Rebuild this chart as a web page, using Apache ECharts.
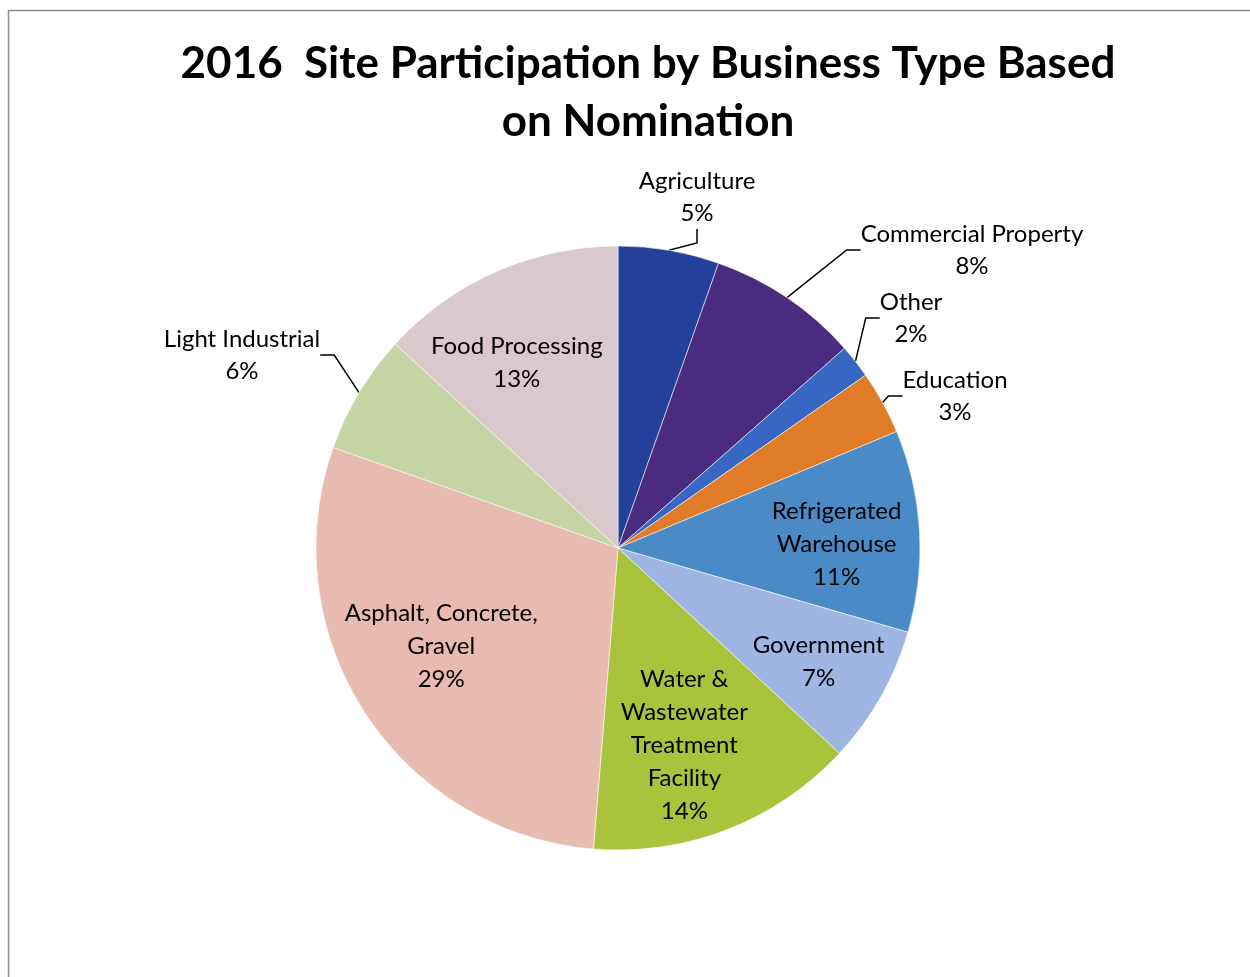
<!DOCTYPE html>
<html>
<head>
<meta charset="utf-8">
<script src="https://cdn.jsdelivr.net/npm/echarts@6/dist/echarts.min.js"></script>
<style>
html,body{margin:0;padding:0;background:#fff;}
#chart{width:1250px;height:977px;}
</style>
</head>
<body>
<div id="chart"></div>
<script>
// ---- data ----
const categories = ['Agriculture','Commercial Property','Other','Education','Refrigerated Warehouse','Government','Water & Wastewater Treatment Facility','Asphalt, Concrete, Gravel','Light Industrial','Food Processing'];
const shares = [5.4, 8.1, 1.8, 3.4, 10.8, 7.4, 14.4, 29.1, 6.4, 13.2];
const labelText = ['Agriculture','Commercial Property','Other','Education','Refrigerated\nWarehouse','Government','Water &\nWastewater\nTreatment\nFacility','Asphalt, Concrete,\nGravel','Light Industrial','Food Processing'];
const titleText = '2016  Site Participation by Business Type Based\non Nomination';

// ---- styles ----
const colors = ['#23409a','#4a2b80','#3767c2','#e07b27','#4a8bc7','#9fb6e4','#a9c33d','#e7bbaf','#c7d4a3','#d9c8cc'];
const outsideSet = ['Agriculture','Commercial Property','Other','Education','Light Industrial'];
const outsidePos = {
  'Agriculture': [697, 197],
  'Commercial Property': [972, 250],
  'Other': [911, 318],
  'Education': [955, 396],
  'Light Industrial': [242, 355]
};
const insideNudge = {
  'Food Processing': [-13, 15],
  'Refrigerated Warehouse': [0, 9],
  'Government': [10, 6],
  'Water & Wastewater Treatment Facility': [-13, -7],
  'Asphalt, Concrete, Gravel': [7, -21]
};
const CX = 618, CY = 548, R = 302;
const FONT = 'Lato, "Open Sans", sans-serif';

const chart = echarts.init(document.getElementById('chart'), null, {renderer:'canvas'});

const mainData = categories.map((c,i)=>({
  name: c, value: shares[i],
  itemStyle: {color: colors[i]},
  label: {show: outsideSet.includes(c)},
  labelLine: {show: outsideSet.includes(c)}
}));
const innerData = categories.map((c,i)=>({
  name: c, value: shares[i],
  label: {show: !outsideSet.includes(c)}
}));
const pctText = p => Math.round(p.percent) + '%';

chart.setOption({
  backgroundColor: '#ffffff',
  animation: false,
  title: {
    text: titleText,
    left: 643, top: 30, textAlign: 'center',
    textStyle: {fontFamily: FONT, fontWeight: 'bold', fontSize: 44, lineHeight: 58, color: '#000'}
  },
  graphic: [{
    type: 'polyline', silent: true,
    shape: {points: [[8.5, 977], [8.5, 10.5], [1250, 10.5]]},
    style: {stroke: '#8c8c8c', lineWidth: 1.5, fill: null}
  }],
  series: [{
    type: 'pie',
    center: [CX, CY], radius: [0, R],
    startAngle: 90, clockwise: true,
    avoidLabelOverlap: false,
    data: mainData,
    itemStyle: {borderColor: 'rgba(255,255,255,0.55)', borderWidth: 1},
    label: {
      position: 'outside',
      formatter: p => labelText[p.dataIndex] + '\n' + pctText(p),
      fontFamily: FONT, fontSize: 24, lineHeight: 32, color: '#000', align: 'center'
    },
    labelLine: {show: true, length: 20, length2: 14, lineStyle: {color: '#000', width: 1.5}},
    labelLayout: function (p) {
      const pos = outsidePos[categories[p.dataIndex]];
      if (!pos) return {};
      return {x: pos[0], y: pos[1], align: 'center', verticalAlign: 'middle'};
    },
    emphasis: {disabled: true}
  }, {
    type: 'pie',
    center: [CX, CY], radius: [130, R],
    startAngle: 90, clockwise: true,
    silent: true,
    data: innerData,
    itemStyle: {color: 'rgba(0,0,0,0)'},
    label: {
      position: 'inside',
      formatter: p => labelText[p.dataIndex] + '\n' + pctText(p),
      fontFamily: FONT, fontSize: 24, lineHeight: 33, color: '#000',
      textBorderWidth: 0
    },
    labelLayout: function (p) {
      const n = insideNudge[categories[p.dataIndex]] || [0, 0];
      return {hideOverlap: false, dx: n[0], dy: n[1]};
    },
    labelLine: {show: false},
    emphasis: {disabled: true}
  }]
});
</script>
</body>
</html>
